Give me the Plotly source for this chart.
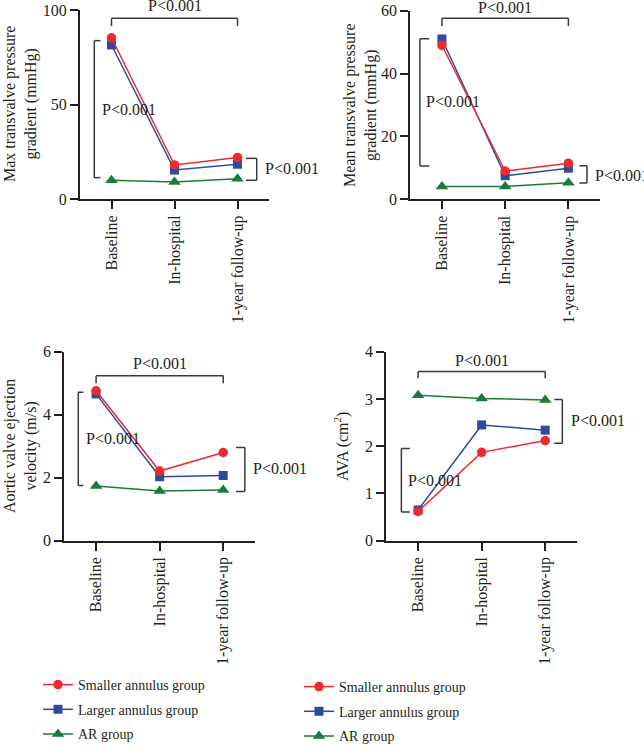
import plotly.graph_objects as go

W, H = 644, 747
FONT = "Liberation Serif"
TXT = "#231f20"
RED, BLUE, GREEN = "#ee2a2e", "#2c4a9e", "#1b7a3a"

categories = ["Baseline", "In-hospital", "1-year follow-up"]
series_names = ["Smaller annulus group", "Larger annulus group", "AR group"]

max_grad_smaller = [85.3, 18.0, 22.0]
max_grad_larger = [81.5, 15.3, 18.4]
max_grad_ar = [9.9, 9.0, 10.7]

mean_grad_smaller = [49.0, 9.0, 11.5]
mean_grad_larger = [51.0, 7.5, 9.9]
mean_grad_ar = [4.1, 4.1, 5.3]

velocity_smaller = [4.76, 2.21, 2.80]
velocity_larger = [4.66, 2.03, 2.07]
velocity_ar = [1.74, 1.58, 1.61]

ava_smaller = [0.62, 1.87, 2.12]
ava_larger = [0.65, 2.45, 2.34]
ava_ar = [3.08, 3.01, 2.98]

y_ticks = [[0, 50, 100], [0, 20, 40, 60], [0, 2, 4, 6], [0, 1, 2, 3, 4]]
y_ranges = [[0, 100], [0, 60], [0, 6], [0, 4]]
y_titles = ["Max transvalve pressure<br>gradient (mmHg)",
            "Mean transvalve pressure<br>gradient (mmHg)",
            "Aortic valve ejection<br>velocity (m/s)",
            "AVA (cm<sup>2</sup>)"]
p_label = "P<0.001"

panels = [
    (max_grad_smaller, max_grad_larger, max_grad_ar),
    (mean_grad_smaller, mean_grad_larger, mean_grad_ar),
    (velocity_smaller, velocity_larger, velocity_ar),
    (ava_smaller, ava_larger, ava_ar),
]

# pixel layout of each panel: (x_left, x_right, y_top, y_bottom)
px_dom = [(80, 269, 10, 199), (410.3, 600, 10.7, 199.3),
          (64.3, 255, 351.7, 540.7), (386.3, 577, 351.7, 540.7)]

fig = go.Figure()

colors = [RED, BLUE, GREEN]
symbols = ["circle", "square", "triangle-up"]
msizes = [9.5, 9, 11]

for i, vals in enumerate(panels):
    xa = "x" if i == 0 else f"x{i+1}"
    ya = "y" if i == 0 else f"y{i+1}"
    # draw green, blue, red so that red lies on top
    for k in [2, 1, 0]:
        show = i in (2, 3)
        fig.add_trace(go.Scatter(
            x=categories, y=vals[k], name=series_names[k],
            mode="lines+markers",
            line=dict(color=colors[k], width=1.5),
            marker=dict(color=colors[k], symbol=symbols[k], size=msizes[k]),
            xaxis=xa, yaxis=ya, showlegend=show,
            legend="legend" if i == 2 else "legend2",
            legendrank=k + 1, legendgroup=f"g{i}{k}",
            cliponaxis=False,
        ))

layout = dict(
    width=W, height=H,
    margin=dict(l=0, r=0, t=0, b=0, autoexpand=False),
    paper_bgcolor="white", plot_bgcolor="white",
    font=dict(family=FONT, size=16, color=TXT),
    showlegend=True,
)

for i in range(4):
    xl, xr, yt, yb = px_dom[i]
    sx = "" if i == 0 else str(i + 1)
    layout[f"xaxis{sx}"] = dict(
        domain=[xl / W, xr / W], anchor=f"y{sx}", type="category",
        range=[-0.5, 2.5], showline=True, linecolor="#231f20", linewidth=2,
        ticks="outside", ticklen=8, tickwidth=1.6, tickcolor="#231f20",
        tickangle=-90, showgrid=False, zeroline=False, automargin=False,
        tickfont=dict(size=16, family=FONT, color=TXT),
    )
    layout[f"yaxis{sx}"] = dict(
        domain=[1 - yb / H, 1 - yt / H], anchor=f"x{sx}",
        range=y_ranges[i], tickvals=y_ticks[i], showline=True,
        linecolor="#231f20", linewidth=2, ticks="outside", ticklen=8,
        tickwidth=1.6, tickcolor="#231f20", showgrid=False, zeroline=False,
        automargin=False,
        tickfont=dict(size=16, family=FONT, color=TXT),
    )

fig.update_layout(**layout)

# brackets: (top_y, top_tick_y, top_text_y,
#            left_x, left_tick_x, left_y0, left_y1, left_text_x, left_text_y,
#            right_x, right_tick_x, right_y0, right_y1, right_text_x, right_text_y)
brackets = [
    (95.6, 91.5, 102.3, -0.273, -0.175, 83.8, 11.3, -0.183, 47.6,
     2.305, 2.135, 21.5, 9.9, 2.405, 15.9),
    (57.6, 55.1, 61.1, -0.348, -0.2, 51.1, 10.6, -0.278, 31.0,
     2.294, 2.174, 10.7, 5.2, 2.396, 7.5),
    (5.24, 5.0, 5.63, -0.28, -0.2, 4.71, 1.75, -0.19, 3.25,
     2.341, 2.2, 2.96, 1.56, 2.431, 2.30),
    (3.58, 3.44, 3.82, -0.263, -0.13, 1.95, 0.61, -0.184, 1.27,
     2.269, 2.143, 2.99, 2.06, 2.379, 2.54),
]
lc = dict(color="#3a3a3a", width=1.5)
for i, b in enumerate(brackets):
    (ty, tty, ttxt, lx, ltx, ly0, ly1, lxt, lyt,
     rx, rtx, ry0, ry1, rxt, ryt) = b
    xr = "x" if i == 0 else f"x{i+1}"
    yr = "y" if i == 0 else f"y{i+1}"
    segs = [
        (0, tty, 0, ty), (0, ty, 2, ty), (2, ty, 2, tty),
        (ltx, ly0, lx, ly0), (lx, ly0, lx, ly1), (lx, ly1, ltx, ly1),
        (rtx, ry0, rx, ry0), (rx, ry0, rx, ry1), (rx, ry1, rtx, ry1),
    ]
    for (x0, y0, x1, y1) in segs:
        fig.add_shape(type="line", xref=xr, yref=yr, x0=x0, y0=y0,
                      x1=x1, y1=y1, line=lc)
    # top label: use y-domain reference so it may sit above the axis range
    lo, hi = y_ranges[i]
    frac = (ttxt - lo) / (hi - lo)
    fig.add_annotation(xref=xr, yref=f"{yr} domain", x=1, y=frac,
                       text=p_label, showarrow=False, xanchor="center",
                       yanchor="middle")
    fig.add_annotation(xref=xr, yref=yr, x=lxt, y=lyt, text=p_label,
                       showarrow=False, xanchor="left", yanchor="middle")
    fig.add_annotation(xref=xr, yref=yr, x=rxt, y=ryt, text=p_label,
                       showarrow=False, xanchor="left", yanchor="middle")

# axis titles as rotated annotations
title_pos = [(21, 104), (361, 105), (20, 446), (341, 447)]
for i, (tx, ty) in enumerate(title_pos):
    fig.add_annotation(xref="paper", yref="paper", x=tx / W, y=1 - ty / H,
                       text=y_titles[i], showarrow=False, textangle=-90,
                       xanchor="center", yanchor="middle",
                       font=dict(size=16, family=FONT, color=TXT))

leg_common = dict(
    bgcolor="rgba(0,0,0,0)", borderwidth=0, orientation="v",
    font=dict(size=14, family=FONT, color=TXT), tracegroupgap=3.5,
    xanchor="left", yanchor="top", itemsizing="trace",
)
fig.update_layout(
    legend=dict(x=38 / W, y=1 - 669 / H, **leg_common),
    legend2=dict(x=299 / W, y=1 - 671 / H, **leg_common),
)

fig.write_html("out.html")
